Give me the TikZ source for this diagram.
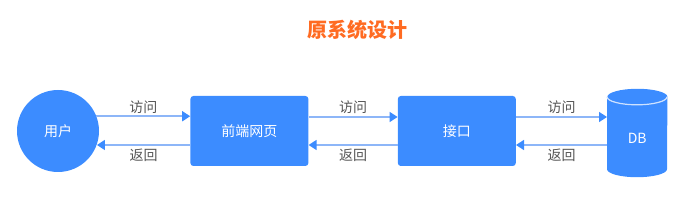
\documentclass[tikz,border=0pt]{standalone}
\usepackage{fontspec}
\setmainfont{Noto Sans CJK SC}
\usepackage{xcolor}
\usetikzlibrary{arrows.meta, positioning, calc}

\definecolor{nodeblue}{HTML}{3C8CFF}
\definecolor{lineblue}{HTML}{8DB6F8}
\definecolor{titleorange}{HTML}{FF6B22}
\definecolor{labelgray}{HTML}{555555}

\begin{document}
\begin{tikzpicture}[
    x=1pt, y=1pt,
    node distance=91pt,
    block/.style={
        rectangle, rounded corners=3pt, fill=nodeblue,
        minimum width=118pt, minimum height=70pt,
        text=white, font=\fontsize{14}{16}\selectfont
    },
    person/.style={
        circle, fill=nodeblue, minimum size=82pt,
        text=white, font=\fontsize{14}{16}\selectfont
    },
    store/.style={
        rectangle, minimum width=60pt, minimum height=88pt, inner sep=0pt
    },
    arrow/.style={-{Triangle[length=8pt, width=10pt, color=nodeblue]}, lineblue, line width=1.5pt},
    label/.style={font=\fontsize{14}{16}\selectfont, text=labelgray}
]
\useasboundingbox (0,0) rectangle (696,200);

% ── Nodes ──
\node[person] (user) at (58,69) {用户};
\node[block, right=of user] (web) {前端网页};
\node[block, right=89pt of web] (api) {接口};
\node[store, right=of api, yshift=-2pt] (db) {};

% ── Database cylinder ──
\fill[nodeblue] ($(db.north west)+(0,-8)$) -- ($(db.south west)+(0,8)$)
    arc (180:360:30 and 8) -- ($(db.north east)+(0,-8)$)
    arc (0:180:30 and 8) -- cycle;
\draw[white!75!nodeblue, line width=1.2pt] ($(db.north west)+(0,-8)$) arc (180:360:30 and 8);
\node[text=white, font=\fontsize{14}{16}\selectfont] (dbtext) at ($(db.center)+(0,-5)$) {DB};

% ── Requests ──
\draw[arrow] (user.21) -- (user.21 -| web.west)
    node[midway, above=-1pt, label] {访问};
\draw[arrow] ([yshift=14pt]web.east) -- ([yshift=14pt]web.east -| api.west)
    node[midway, above=-1pt, label] {访问};
\draw[arrow] ([yshift=14pt]api.east) -- ([yshift=14pt]api.east -| db.west)
    node[midway, above=-1pt, label] {访问};

% ── Responses ──
\draw[arrow] ([yshift=-14pt]web.west) -- ([yshift=-14pt]web.west -| user.-19)
    node[midway, below=0pt, label] {返回};
\draw[arrow] ([yshift=-14pt]api.west) -- ([yshift=-14pt]api.west -| web.east)
    node[midway, below=0pt, label] {返回};
\draw[arrow] ([yshift=-14pt]api.east -| db.west) -- ([yshift=-14pt]api.east)
    node[midway, below=0pt, label] {返回};

% ── Title ──
\node[font=\bfseries\fontsize{20}{24}\selectfont, text=titleorange] (title) at (357,170) {原系统设计};

\end{tikzpicture}
\end{document}
